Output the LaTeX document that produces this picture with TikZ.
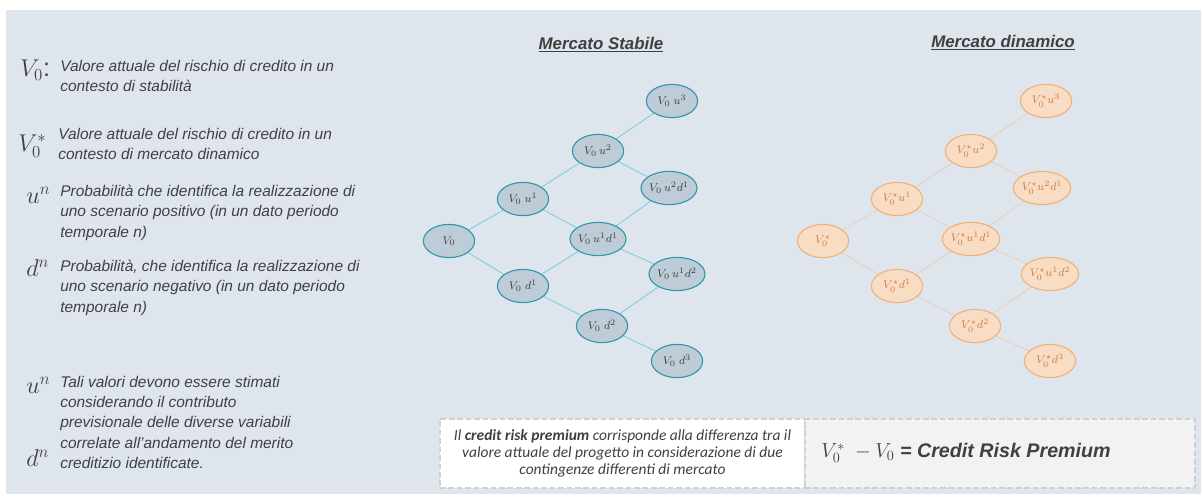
\documentclass[tikz,border=0pt]{standalone}
\usepackage{fontspec}
\setmainfont{Liberation Sans}
\newfontfamily\calfont{Carlito}
\usetikzlibrary{shapes.geometric,positioning,backgrounds}

\definecolor{sfondo}{RGB}{223,229,236}
\definecolor{testo}{RGB}{64,64,64}
\definecolor{stabfill}{RGB}{190,204,216}
\definecolor{stabbordo}{RGB}{49,152,170}
\definecolor{stabramo}{RGB}{125,205,218}
\definecolor{dinfill}{RGB}{248,220,196}
\definecolor{dinbordo}{RGB}{238,178,125}
\definecolor{dintesto}{RGB}{206,126,62}
\definecolor{dinramo}{RGB}{232,208,188}
\definecolor{tratteggio}{RGB}{208,208,208}

\tikzset{
  simbolo/.style={anchor=west,text=testo,font=\fontsize{18}{20}\selectfont},
  legenda/.style={anchor=north west,align=left,text=testo,font=\fontsize{11}{14.4}\selectfont\itshape},
  titolo/.style={text=testo,font=\fontsize{12}{14}\selectfont\bfseries\itshape},
  stato/.style={ellipse,minimum width=1.28cm,minimum height=.83cm,line width=.8pt,font=\fontsize{8.5}{9}\selectfont},
  stab/.style={stato,fill=stabfill,draw=stabbordo,text=testo},
  din/.style={stato,fill=dinfill,draw=dinbordo,text=dintesto},
  ramostab/.style={stabramo,line width=.6pt},
  ramodin/.style={dinramo,line width=.6pt},
  riquadro/.style={draw=tratteggio,line width=1pt,dash pattern=on 4pt off 2pt,minimum height=1.725cm}
}

\begin{document}
\begin{tikzpicture}[x=0.025cm,y=-0.025cm,every node/.style={inner sep=0pt}]
\useasboundingbox (0,0) rectangle (1203,497);

% legenda
\node[simbolo] (lv) at (20,70) {$V_0$:};
\node[legenda] (tv) at (60,60) {Valore attuale del rischio di credito in un\\contesto di stabilità};
\node[simbolo] (lvs) at (18,146) {$V_0^*$};
\node[legenda] (tvs) at (58,128) {Valore attuale del rischio di credito in un\\contesto di mercato dinamico};
\node[simbolo] (lu) at (26,195) {$u^n$};
\node[legenda] (tu) at (60,185) {Probabilità che identifica la realizzazione di\\uno scenario positivo (in un dato periodo\\temporale n)};
\node[simbolo] (ld) at (26,268) {$d^n$};
\node[legenda] (td) at (60,260) {Probabilità, che identifica la realizzazione di\\uno scenario negativo (in un dato periodo\\temporale n)};
\node[simbolo] (lu2) at (26,385) {$u^n$};
\node[simbolo] (ld2) at (26,458) {$d^n$};
\node[legenda] (tud) at (60,376) {Tali valori devono essere stimati\\considerando il contributo\\previsionale delle diverse variabili\\correlate all’andamento del merito\\creditizio identificate.};

% mercato stabile
\node[titolo] (tstab) at (601,45) {\underline{Mercato Stabile}};
\node[stab] (s0) at (449,241) {$V_0$};
\node[stab] (su1) at (523,199) {$V_0\;u^1$};
\node[stab] (sd1) at (523,286) {$V_0\;d^1$};
\node[stab] (su2) at (598,151) {$V_0\,u^2$};
\node[stab] (su1d1) at (598,239) {$V_0\,u^1d^1$};
\node[stab] (sd2) at (602,326) {$V_0\;d^2$};
\node[stab] (su3) at (672,101) {$V_0\;u^3$};
\node[stab] (su2d1) at (669,188) {$V_0\,u^2d^1$};
\node[stab] (su1d2) at (677,274) {$V_0\,u^1d^2$};
\node[stab] (sd3) at (677,361) {$V_0\;d^3$};

% mercato dinamico
\node[titolo] (tdin) at (1003,43) {\underline{Mercato dinamico}};
\node[din] (d0) at (823,241) {$V_0^{\star}$};
\node[din] (du1) at (897,199) {$V_0^{\star}u^1$};
\node[din] (dd1) at (897,286) {$V_0^{\star}d^1$};
\node[din] (du2) at (971,151) {$V_0^{\star}u^2$};
\node[din] (du1d1) at (971,239) {$V_0^{\star}u^1d^1$};
\node[din] (dd2) at (975,326) {$V_0^{\star}d^2$};
\node[din] (du3) at (1046,101) {$V_0^{\star}u^3$};
\node[din] (du2d1) at (1042,188) {$V_0^{\star}u^2d^1$};
\node[din] (du1d2) at (1050,274) {$V_0^{\star}u^1d^2$};
\node[din] (dd3) at (1050,361) {$V_0^{\star}d^3$};

\begin{pgfonlayer}{background}
\fill[sfondo] (6,10) rectangle (1201,494);
\foreach \f/\t in {0/u1,0/d1,u1/u2,u1/u1d1,d1/u1d1,d1/d2,u2/u3,u2/u2d1,u1d1/u2d1,u1d1/u1d2,d2/u1d2,d2/d3}{
 \draw[ramostab] (s\f) -- (s\t);
 \draw[ramodin] (d\f) -- (d\t);
}
\end{pgfonlayer}

% credit risk premium
\node[riquadro,fill=white,minimum width=9.125cm] (spiega) at (622.5,453.5) {};
\node[riquadro,fill=black!5,minimum width=9.75cm] (premio) at (1000,453.5) {};
\node[align=center,text=testo,font=\calfont\fontsize{11}{12.3}\selectfont\itshape] (tspiega) at (spiega) {Il \textbf{credit risk premium} corrisponde alla differenza tra il\\valore attuale del progetto in considerazione di due\\contingenze differenti di mercato};
\node[text=testo,font=\fontsize{14}{16}\selectfont] (tpremio) at (966,453) {$V_0^{*}\;-V_0$ \textbf{\textit{= Credit Risk Premium}}};
\end{tikzpicture}
\end{document}
